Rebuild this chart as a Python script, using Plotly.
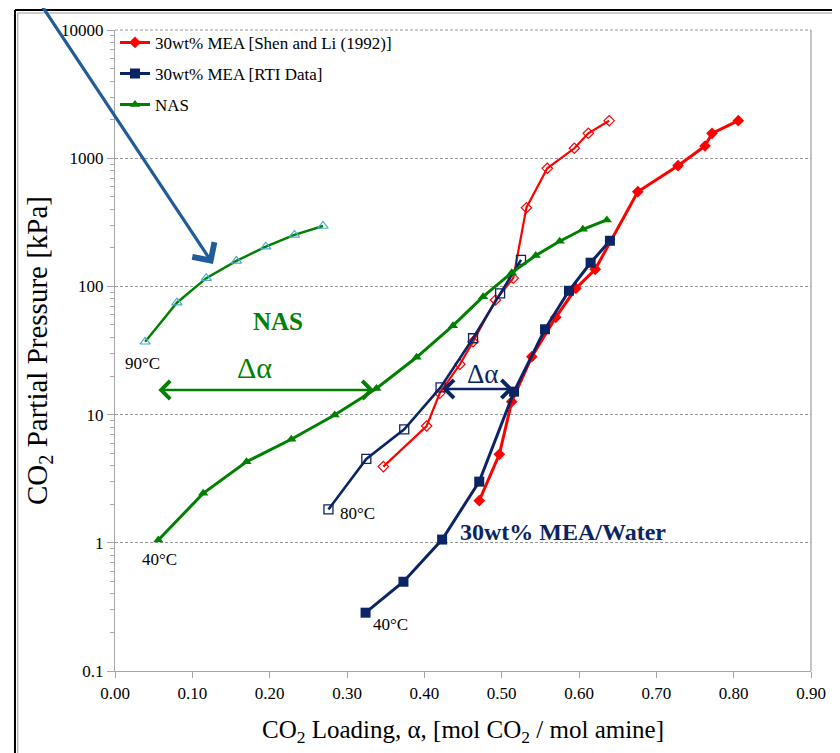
import plotly.graph_objects as go

# ---------------- data ----------------
# NAS
nas40_alpha = [0.056, 0.114, 0.170, 0.228, 0.284, 0.338, 0.390, 0.437, 0.476, 0.513, 0.544, 0.575, 0.605, 0.636]
nas40_p = [1.05, 2.43, 4.29, 6.42, 9.93, 16.0, 28.0, 49.4, 83.1, 128, 174, 225, 279, 330]
nas90_alpha = [0.039, 0.080, 0.118, 0.157, 0.195, 0.232, 0.269]
nas90_p = [37.0, 74.6, 116, 158, 204, 252, 296]

# 30wt% MEA [Shen and Li (1992)]
shen80_alpha = [0.347, 0.403, 0.420, 0.446, 0.463, 0.492, 0.515, 0.532, 0.559, 0.594, 0.612, 0.639]
shen80_p = [3.93, 8.15, 14.7, 24.7, 37.0, 78.3, 116, 411, 834, 1195, 1564, 1961]
shen40_alpha = [0.471, 0.497, 0.513, 0.539, 0.570, 0.596, 0.621, 0.676, 0.728, 0.763, 0.772, 0.806]
shen40_p = [2.13, 4.90, 12.6, 28.3, 57.4, 96.6, 136, 548, 874, 1245, 1564, 1961]

# 30wt% MEA [RTI Data]
rti80_alpha = [0.276, 0.325, 0.374, 0.421, 0.463, 0.498, 0.525]
rti80_p = [1.82, 4.51, 7.68, 16.3, 39.4, 88.3, 161]
rti40_alpha = [0.324, 0.373, 0.423, 0.471, 0.516, 0.556, 0.587, 0.615, 0.640]
rti40_p = [0.285, 0.497, 1.06, 3.0, 15.1, 46.3, 92.5, 153, 227]

y_tickvals = [0.1, 1, 10, 100, 1000, 10000]
y_ticktext = ["0.1", "1", "10", "100", "1000", "10000"]
x_tickvals = [0.0, 0.1, 0.2, 0.3, 0.4, 0.5, 0.6, 0.7, 0.8, 0.9]
x_ticktext = ["0.00", "0.10", "0.20", "0.30", "0.40", "0.50", "0.60", "0.70", "0.80", "0.90"]

# ---------------- styles ----------------
RED = "#FF0000"
NAVY = "#0B2463"
GREEN = "#008000"
TEAL = "#4BACC6"
ARROW_BLUE = "#1F5C99"
FONT = "Liberation Serif, Times New Roman, serif"

fig = go.Figure()

fig.add_trace(go.Scatter(
    x=shen40_alpha, y=shen40_p, mode="lines+markers",
    name="30wt% MEA [Shen and Li (1992)]", legendgroup="shen", legendrank=1,
    line=dict(color=RED, width=3),
    marker=dict(symbol="diamond", size=9, color=RED)))
fig.add_trace(go.Scatter(
    x=shen80_alpha, y=shen80_p, mode="lines+markers",
    name="Shen 80", legendgroup="shen", showlegend=False,
    line=dict(color=RED, width=2.2),
    marker=dict(symbol="diamond-open", size=8, color=RED, line=dict(width=1.2))))

fig.add_trace(go.Scatter(
    x=rti80_alpha, y=rti80_p, mode="lines+markers",
    name="RTI 80", legendgroup="rti", showlegend=False,
    line=dict(color=NAVY, width=2.6),
    marker=dict(symbol="square-open", size=9, color=NAVY, line=dict(width=1.3))))
fig.add_trace(go.Scatter(
    x=rti40_alpha, y=rti40_p, mode="lines+markers",
    name="30wt% MEA [RTI Data]", legendgroup="rti", legendrank=2,
    line=dict(color=NAVY, width=3),
    marker=dict(symbol="square", size=10, color=NAVY)))

fig.add_trace(go.Scatter(
    x=nas40_alpha, y=nas40_p, mode="lines+markers",
    name="NAS", legendgroup="nas", legendrank=3,
    line=dict(color=GREEN, width=3),
    marker=dict(symbol="triangle-up", size=9, color=GREEN)))
fig.add_trace(go.Scatter(
    x=nas90_alpha, y=nas90_p, mode="lines+markers",
    name="NAS 90", legendgroup="nas", showlegend=False,
    line=dict(color=GREEN, width=2.4),
    marker=dict(symbol="triangle-up-open", size=9, color=TEAL, line=dict(width=1.2))))

# ---------------- annotations ----------------
ann = []
def txt(x, y, s, size, color, bold=False):
    ann.append(dict(x=x, y=y, xref="x", yref="y", text=(f"<b>{s}</b>" if bold else s),
                    showarrow=False, font=dict(family=FONT, size=size, color=color),
                    xanchor="center", yanchor="middle"))

txt(0.211, 1.73, "NAS", 25, GREEN, bold=True)
txt(0.181, 1.371, "Δα", 30, GREEN)
txt(0.476, 1.317, "Δα", 27, NAVY)
txt(0.036, 1.402, "90°C", 17, "#000000")
txt(0.314, 0.232, "80°C", 17, "#000000")
txt(0.057, -0.134, "40°C", 17, "#000000")
txt(0.356, -0.641, "40°C", 17, "#000000")
txt(0.579, 0.084, "30wt% MEA/Water", 24, NAVY, bold=True)

# green double arrow
ann.append(dict(x=0.056, y=1.192, ax=0.337, ay=1.192, xref="x", yref="y", axref="x", ayref="y",
                text="", showarrow=True, arrowside="end+start", arrowhead=4, startarrowhead=4,
                arrowsize=1.4, startarrowsize=1.4, arrowwidth=2.5, arrowcolor=GREEN,
                standoff=0, startstandoff=0))
# navy double arrow
ann.append(dict(x=0.423, y=1.2, ax=0.517, ay=1.2, xref="x", yref="y", axref="x", ayref="y",
                text="", showarrow=True, arrowside="end+start", arrowhead=4, startarrowhead=4,
                arrowsize=1.4, startarrowsize=1.4, arrowwidth=2.5, arrowcolor=NAVY,
                standoff=0, startstandoff=0))
# blue pointer arrow
ann.append(dict(x=0.1267, y=2.175, ax=-0.0996, ay=4.234, xref="x", yref="y", axref="x", ayref="y",
                text="", showarrow=True, arrowhead=4, arrowsize=1.6, arrowwidth=3.2,
                arrowcolor=ARROW_BLUE, standoff=0))

# ---------------- frame shapes ----------------
shapes = [
    dict(type="line", xref="paper", yref="paper", x0=1, x1=1, y0=0, y1=1,
         line=dict(color="#A6A6A6", width=1.3)),
    dict(type="line", xref="paper", yref="paper", x0=0, x1=1, y0=1, y1=1,
         line=dict(color="#999999", width=1, dash="3px,2px")),
    dict(type="line", xref="paper", yref="paper", x0=-0.1437, x1=1.2, y0=1.0312, y1=1.0312,
         line=dict(color="#000000", width=2)),
    dict(type="line", xref="paper", yref="paper", x0=-0.1397, x1=1.2, y0=1.0265, y1=1.0265,
         line=dict(color="#999999", width=1)),
    dict(type="line", xref="paper", yref="paper", x0=-0.1437, x1=-0.1437, y0=-0.2, y1=1.0312,
         line=dict(color="#000000", width=2)),
    dict(type="line", xref="paper", yref="paper", x0=-0.1397, x1=-0.1397, y0=-0.2, y1=1.0265,
         line=dict(color="#999999", width=1)),
]

# page body has an 8px default margin, so the figure is 8px smaller than the window
fig.update_layout(
    width=832, height=745,
    margin=dict(l=107, r=29, t=22, b=82),
    paper_bgcolor="white", plot_bgcolor="white",
    font=dict(family=FONT, size=16, color="#000000"),
    showlegend=True,
    legend=dict(x=0.0, y=1.008, xanchor="left", yanchor="top",
                bgcolor="rgba(0,0,0,0)", font=dict(family=FONT, size=17),
                traceorder="grouped", tracegroupgap=6, itemwidth=30),
    annotations=ann,
    shapes=shapes,
)

fig.update_xaxes(
    range=[0, 0.9], tickvals=x_tickvals, ticktext=x_ticktext,
    showline=True, linecolor="#A6A6A6", linewidth=1.3,
    ticks="outside", ticklen=6, tickcolor="#A6A6A6",
    showgrid=False, zeroline=False,
    tickfont=dict(family=FONT, size=17),
    title=dict(text="CO<sub>2</sub> Loading, α, [mol CO<sub>2</sub> / mol amine]",
               font=dict(family=FONT, size=25), standoff=18),
)
fig.update_yaxes(
    type="log", range=[-1, 4], tickvals=y_tickvals, ticktext=y_ticktext,
    showline=True, linecolor="#A6A6A6", linewidth=1.3,
    ticks="outside", ticklen=7, tickcolor="#A6A6A6",
    showgrid=True, gridcolor="#999999", gridwidth=1, griddash="3px,2px",
    minor=dict(ticks="outside", ticklen=4, tickcolor="#A6A6A6", showgrid=False,
               tickvals=[m * 10 ** e for e in range(-1, 4) for m in range(2, 10)]),
    zeroline=False,
    tickfont=dict(family=FONT, size=17),
    title=dict(text="CO<sub>2</sub> Partial Pressure [kPa]",
               font=dict(family=FONT, size=29), standoff=4),
)

fig.write_html("out.html")
